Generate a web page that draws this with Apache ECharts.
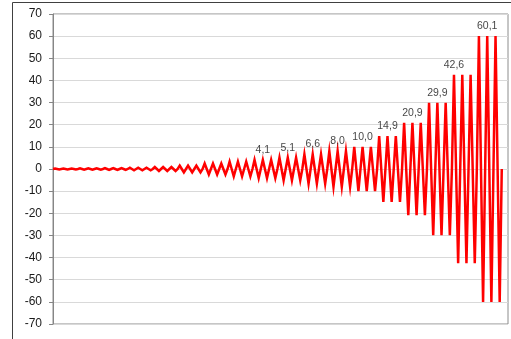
<!DOCTYPE html>
<html>
<head>
<meta charset="utf-8">
<script src="https://cdn.jsdelivr.net/npm/echarts@6/dist/echarts.min.js"></script>
<style>
html,body{margin:0;padding:0;background:#fff;}
#chart{width:511px;height:339px;}
</style>
</head>
<body>
<div id="chart"></div>
<script>
// Peak (positive) amplitude of each oscillation cycle
const peaks = [0.2,0.2,0.2, 0.3,0.3,0.3, 0.4,0.4,0.4, 0.6,0.6,0.6, 0.9,0.9,0.9, 1.5,1.5,1.5,
  2.5,2.5,2.5, 3.3,3.3,3.3, 4.1,4.1,4.1, 5.1,5.1,5.1, 6.6,6.6,6.6, 8.0,8.0,8.0,
  10.0,10.0,10.0, 14.9,14.9,14.9, 20.9,20.9,20.9, 29.9,29.9,29.9, 42.6,42.6,42.6, 60.1,60.1,60.1];
// Trough (negative) value of each cycle
const troughs = [-0.2,-0.2,-0.2, -0.3,-0.3,-0.3, -0.4,-0.4,-0.4, -0.6,-0.6,-0.6, -0.9,-0.9,-0.9, -1.5,-1.5,-1.5,
  -2.5,-2.5,-2.5, -3.3,-3.3,-3.3, -4.1,-4.1,-4.1, -5.1,-5.1,-5.1, -6.6,-6.6,-6.6, -8.0,-8.0,-8.0,
  -10.0,-10.0,-10.0, -14.9,-14.9,-14.9, -20.9,-20.9,-20.9, -29.9,-29.9,-29.9, -42.6,-42.6,-42.6, -60.1,-60.1,-60.1];
// Cycles whose peak carries a data label
const labeledCycles = [25, 28, 31, 34, 37, 40, 43, 46, 48, 52];
const categoryCount = 220;
const yMin = -70, yMax = 70, yStep = 10;

// Build zig-zag: 0, peak, 0, trough, 0, ...
const values = [0];
for (let k = 0; k < peaks.length; k++) {
  values.push(peaks[k], 0, troughs[k], 0);
}
const categories = [];
for (let i = 0; i < categoryCount; i++) categories.push(String(i));

const labelPoints = labeledCycles.map(k => [1 + 4 * k, peaks[k]]);

const chart = echarts.init(document.getElementById('chart'), null, {renderer: 'canvas'});
const font = 'Liberation Sans, Arial, sans-serif';
chart.setOption({
  animation: false,
  backgroundColor: '#ffffff',
  graphic: [{
    type: 'rect', z: 0, silent: true,
    shape: {x: 12.5, y: 2.5, width: 600, height: 400},
    style: {fill: 'none', stroke: '#404040', lineWidth: 1}
  }],
  grid: {left: 53, right: 3, top: 14, bottom: 15, show: true, borderColor: '#8c8c8c', borderWidth: 1, backgroundColor: 'transparent'},
  xAxis: {
    type: 'category', data: categories, boundaryGap: false,
    axisLine: {show: false}, axisTick: {show: false}, axisLabel: {show: false}, splitLine: {show: false}
  },
  yAxis: {
    type: 'value', min: yMin, max: yMax, interval: yStep,
    axisLine: {show: true, lineStyle: {color: '#868686', width: 1}},
    axisTick: {show: true, length: 4, lineStyle: {color: '#868686'}},
    axisLabel: {color: '#1a1a1a', fontSize: 12, fontFamily: font, margin: 11},
    splitLine: {show: true, lineStyle: {color: '#d9d9d9', width: 1}}
  },
  series: [{
    type: 'line', data: values, symbol: 'none', smooth: false,
    lineStyle: {color: '#ff0000', width: 2.5, join: 'miter'}, z: 3
  }, {
    type: 'scatter', data: labelPoints, symbol: 'circle', symbolSize: 1,
    itemStyle: {color: 'rgba(0,0,0,0)'}, z: 4,
    label: {
      show: true, position: 'top', distance: 4, color: '#111', fontSize: 10.5, fontFamily: font,
      formatter: p => p.value[1].toFixed(1).replace('.', ',')
    }
  }]
});
</script>
</body>
</html>
